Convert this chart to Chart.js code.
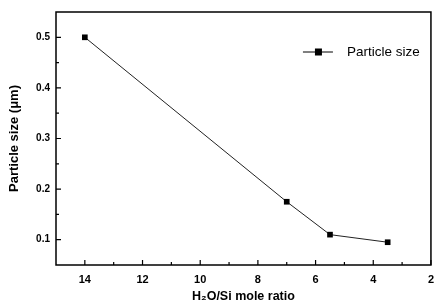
<!DOCTYPE html>
<html>
<head>
<meta charset="utf-8">
<script src="https://cdn.jsdelivr.net/npm/chart.js@4/dist/chart.umd.min.js"></script>
<style>
    html, body { margin: 0; padding: 0; background: #fff; }
    #wrap { width: 442px; height: 305px; }
</style>
</head>
<body>
<div id="wrap"><canvas id="chart"></canvas></div>
<script>
// Data
const ratios = [14, 7, 5.5, 3.5];
const sizes = [0.5, 0.175, 0.11, 0.095];
const xTicks = [14, 12, 10, 8, 6, 4, 2];
const xMinor = [13, 11, 9, 7, 5, 3];
const yTicks = [0.1, 0.2, 0.3, 0.4, 0.5];
const yMinor = [0.15, 0.25, 0.35, 0.45];
const seriesLabel = 'Particle size';

// Frame, inward ticks and the legend drawn over the plot
const framePlugin = {
    id: 'frame',
    afterDraw(chart) {
        const ctx = chart.ctx;
        const a = chart.chartArea;
        const x = chart.scales.x;
        const y = chart.scales.y;
        ctx.save();
        ctx.strokeStyle = '#000';
        ctx.lineWidth = 1.5;
        ctx.strokeRect(a.left, a.top, a.right - a.left, a.bottom - a.top);

        ctx.lineWidth = 1.2;
        ctx.beginPath();
        xTicks.forEach(v => {
            const px = x.getPixelForValue(v);
            ctx.moveTo(px, a.bottom); ctx.lineTo(px, a.bottom - 5);
        });
        xMinor.forEach(v => {
            const px = x.getPixelForValue(v);
            ctx.moveTo(px, a.bottom); ctx.lineTo(px, a.bottom - 3);
        });
        yTicks.forEach(v => {
            const py = y.getPixelForValue(v);
            ctx.moveTo(a.left, py); ctx.lineTo(a.left + 5, py);
        });
        yMinor.forEach(v => {
            const py = y.getPixelForValue(v);
            ctx.moveTo(a.left, py); ctx.lineTo(a.left + 3, py);
        });
        ctx.stroke();

        // legend
        const ly = a.top + 40;
        const lx = a.right - 128;
        ctx.lineWidth = 1;
        ctx.beginPath();
        ctx.moveTo(lx, ly); ctx.lineTo(lx + 30, ly);
        ctx.stroke();
        ctx.fillStyle = '#000';
        ctx.fillRect(lx + 12, ly - 3.5, 7, 7);
        ctx.font = '13.5px "Liberation Sans", Arial, sans-serif';
        ctx.textBaseline = 'middle';
        ctx.fillText(seriesLabel, lx + 44, ly);
        ctx.restore();
    }
};

const ctx = document.getElementById('chart').getContext('2d');
const chart = new Chart(ctx, {
    type: 'scatter',
    data: {
        datasets: [{
            label: seriesLabel,
            data: ratios.map((r, i) => ({ x: r, y: sizes[i] })),
            showLine: true,
            borderColor: '#222',
            borderWidth: 1,
            backgroundColor: '#000',
            pointStyle: 'rect',
            pointRadius: 4,
            pointBorderWidth: 0
        }]
    },
    options: {
        responsive: true,
        maintainAspectRatio: false,
        animation: false,
        layout: { padding: { top: 11, right: 4, left: 0, bottom: 0 } },
        plugins: {
            legend: { display: false },
            tooltip: { enabled: false }
        },
        scales: {
            x: {
                type: 'linear',
                reverse: true,
                min: 2,
                max: 15,
                afterBuildTicks: s => { s.ticks = xTicks.map(v => ({ value: v })); },
                afterFit: s => { s.height = 40; },
                grid: { display: false, drawTicks: false },
                border: { display: false },
                ticks: {
                    color: '#000',
                    padding: 8,
                    maxRotation: 0,
                    font: { family: '"Liberation Sans", Arial, sans-serif', size: 11, weight: 'bold' }
                },
                title: {
                    display: true,
                    text: 'H₂O/Si mole ratio',
                    color: '#000',
                    padding: { top: 0, bottom: 1 },
                    font: { family: '"Liberation Sans", Arial, sans-serif', size: 12.5, weight: 'bold' }
                }
            },
            y: {
                min: 0.05,
                max: 0.55,
                afterBuildTicks: s => { s.ticks = yTicks.map(v => ({ value: v })); },
                afterFit: s => { s.width = 56; },
                grid: { display: false, drawTicks: false },
                border: { display: false },
                ticks: {
                    color: '#000',
                    padding: 6,
                    callback: v => v.toFixed(1),
                    font: { family: '"Liberation Sans", Arial, sans-serif', size: 10, weight: 'bold' }
                },
                title: {
                    display: true,
                    text: 'Particle size (μm)',
                    color: '#000',
                    padding: { top: 7, bottom: 0 },
                    font: { family: '"Liberation Sans", Arial, sans-serif', size: 13, weight: 'bold' }
                }
            }
        }
    },
    plugins: [framePlugin]
});
</script>
</body>
</html>
